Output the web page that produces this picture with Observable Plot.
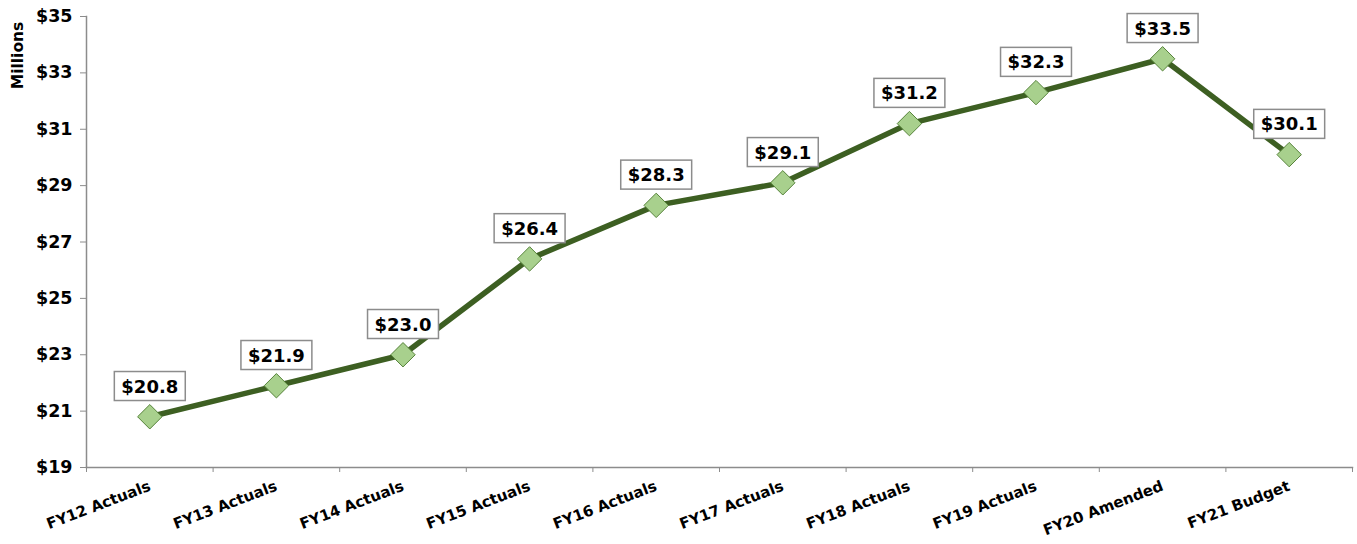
<!DOCTYPE html>
<html>
<head>
<meta charset="utf-8">
<script src="https://cdn.jsdelivr.net/npm/d3@7"></script>
<script src="https://cdn.jsdelivr.net/npm/@observablehq/plot@0.6"></script>
<style>
  body { margin: 0; background: #fff; }
  svg { font-family: "DejaVu Sans", sans-serif; }
</style>
</head>
<body>
<div id="chart"></div>
<script>
const categories = ["FY12 Actuals","FY13 Actuals","FY14 Actuals","FY15 Actuals","FY16 Actuals","FY17 Actuals","FY18 Actuals","FY19 Actuals","FY20 Amended","FY21 Budget"];
const values = [20.8, 21.9, 23.0, 26.4, 28.3, 29.1, 31.2, 32.3, 33.5, 30.1];
const yTicks = [19, 21, 23, 25, 27, 29, 31, 33, 35];

const data = categories.map((c, i) => ({i, c, v: values[i]}));
const bounds = d3.range(categories.length + 1).map(k => k - 0.5);

const chart = Plot.plot({
  width: 1357,
  height: 544,
  marginLeft: 86,
  marginRight: 5,
  marginTop: 16,
  marginBottom: 77,
  style: {fontFamily: "DejaVu Sans, sans-serif", background: "#fff"},
  x: {type: "linear", domain: [-0.5, categories.length - 0.5]},
  y: {domain: [19, 35]},
  marks: [
    Plot.frame({anchor: "left", stroke: "#8c8c8c", strokeWidth: 1.5}),
    Plot.frame({anchor: "bottom", stroke: "#8c8c8c", strokeWidth: 1.5}),
    Plot.axisY({ticks: yTicks, tickFormat: d => "$" + d, tickSize: 6, tickPadding: 8, stroke: "#8c8c8c",
      fontSize: 17.5, fontWeight: "bold", fill: "#000", label: null}),
    Plot.axisX({ticks: bounds, tickFormat: () => "", tickSize: 5, stroke: "#8c8c8c", label: null}),
    Plot.axisX({ticks: d3.range(categories.length), tickFormat: i => categories[i], tickSize: 0,
      tickPadding: 18, tickRotate: -21, fontSize: 15, fontWeight: "bold", fill: "#000", label: null}),
    Plot.text(["Millions"], {frameAnchor: "top-left", rotate: -90, dx: -68, dy: 39,
      textAnchor: "middle", lineAnchor: "middle",
      fontSize: 15.5, fontWeight: "bold", fill: "#000"}),
    Plot.line(data, {x: "i", y: "v", stroke: "#3d5f22", strokeWidth: 5.5}),
    Plot.dot(data, {x: "i", y: "v", symbol: "diamond2", r: 11, fill: "#a8d08d", stroke: "#56833a", strokeWidth: 1}),
    Plot.text(data, {x: "i", y: "v", text: d => "$" + d.v.toFixed(1), dy: -30, fontSize: 18,
      fontWeight: "bold", fill: "#000", className: "vlabel"})
  ]
});
document.getElementById("chart").append(chart);

// boxes behind value labels
d3.select(chart).selectAll("g.vlabel text").each(function() {
  const b = this.getBBox();
  const padX = 7, padY = 4;
  d3.select(this.parentNode).insert("rect", () => this)
    .attr("x", b.x - padX).attr("y", b.y - padY)
    .attr("width", b.width + 2 * padX).attr("height", b.height + 2 * padY)
    .attr("transform", this.getAttribute("transform"))
    .attr("fill", "#fff").attr("stroke", "#8c8c8c").attr("stroke-width", 1.5);
});
</script>
</body>
</html>
